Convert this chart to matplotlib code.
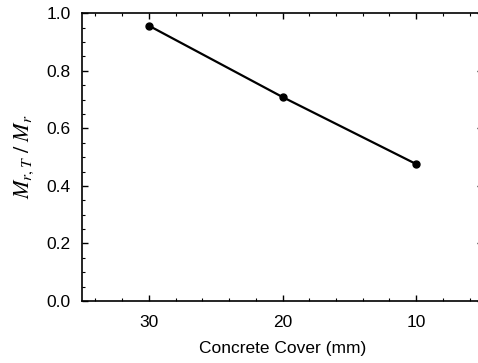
import numpy as np
import matplotlib
matplotlib.use('Agg')
import matplotlib.pyplot as plt
from matplotlib.ticker import MultipleLocator

plt.rcParams['font.family'] = ['Liberation Sans', 'DejaVu Sans']
plt.rcParams['mathtext.fontset'] = 'stix'

cover = [30, 20, 10]
ratio = [0.957, 0.709, 0.476]

fig = plt.figure(figsize=(4.78, 3.63), dpi=100)
ax = fig.add_axes([82 / 478, 1 - 301 / 363, (483 - 82) / 478, (301 - 13.3) / 363])

ax.plot(cover, ratio, color='black', linewidth=1.6, marker='o', markersize=5)

ax.set_xlim(35, 5)
ax.set_ylim(0, 1.0)
ax.xaxis.set_major_locator(MultipleLocator(10))
ax.xaxis.set_minor_locator(MultipleLocator(2))
ax.yaxis.set_major_locator(MultipleLocator(0.2))
ax.yaxis.set_minor_locator(MultipleLocator(0.05))
ax.yaxis.set_major_formatter(plt.FormatStrFormatter('%.1f'))

ax.tick_params(which='both', direction='in', top=True, right=True, labelsize=12.5)
ax.tick_params(which='major', length=4, width=1)
ax.tick_params(which='minor', length=2.5, width=0.8)
ax.tick_params(axis='x', which='major', pad=10)
ax.tick_params(axis='y', which='major', pad=8)
for s in ax.spines.values():
    s.set_linewidth(1.2)

ax.set_xlabel('Concrete Cover (mm)', fontsize=12.5, labelpad=8)
ax.set_ylabel(r'$M_{r,T}\,\,/\,\,M_r$', fontsize=16, labelpad=8)

fig.savefig('out.png', dpi=100)
